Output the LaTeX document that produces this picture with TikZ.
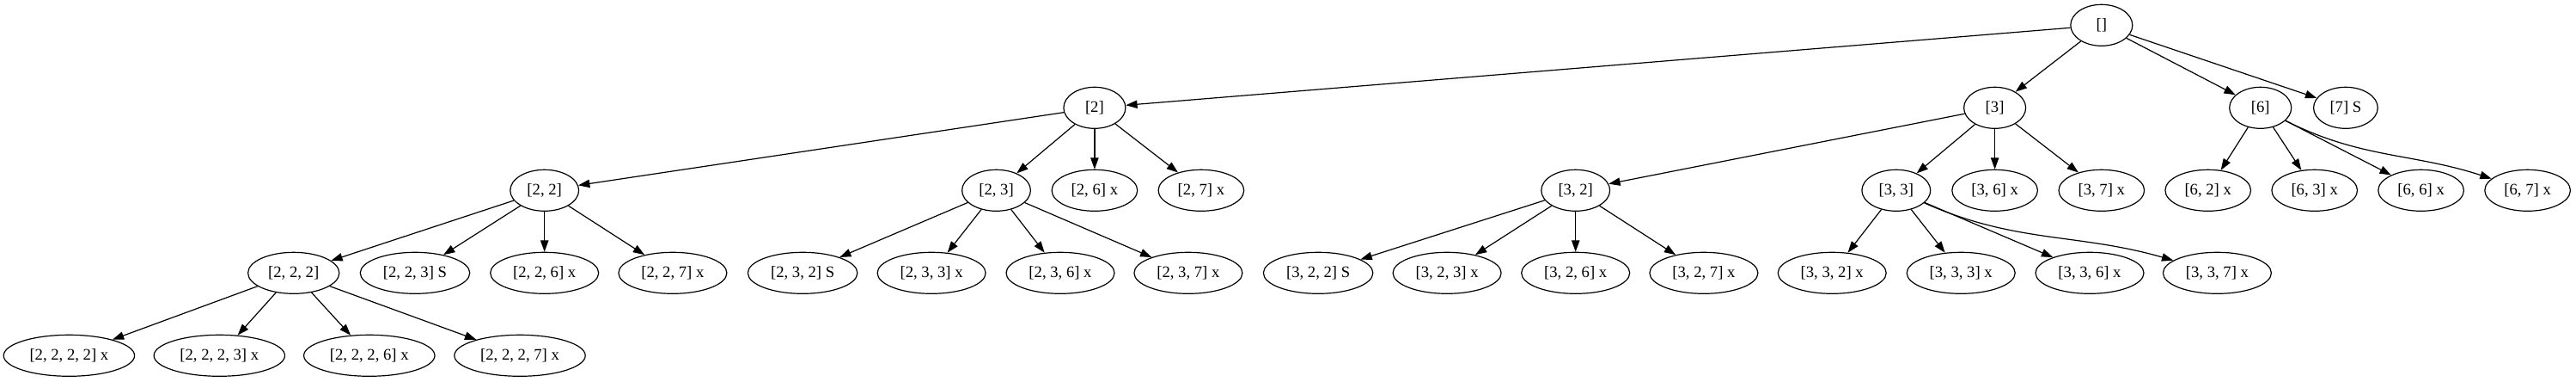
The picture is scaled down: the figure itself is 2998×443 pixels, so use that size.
\documentclass[tikz,border=0pt]{standalone}
\usepackage{fontspec}
\setmainfont{Liberation Serif}
\usetikzlibrary{arrows.meta,shapes.geometric}

\begin{document}
\begin{tikzpicture}[x=0.75pt,y=-0.75pt,
	state/.style={draw,ellipse,line width=0.9pt,inner xsep=6pt,inner ysep=0pt,
		minimum width=54pt,minimum height=36pt,font=\fontsize{14}{16}\selectfont},
	edge/.style={draw,line width=0.9pt,-{Triangle[length=10pt,width=7pt]}}]
	\useasboundingbox (0,0) rectangle (2998,443);

	% rank 0 and 1
	\node[state] (nr) at (2445.8,29.3) {[]};
	\node[state] (n2) at (1273.9,125.3) {[2]};
	\node[state] (n3) at (2321.6,125.3) {[3]};
	\node[state] (n6) at (2630.7,125.3) {[6]};
	\node[state] (n7) at (2729.9,125.3) {[7] S};

	% rank 2
	\node[state] (n22) at (633.7,221.3) {[2, 2]};
	\node[state] (n23) at (1159.5,221.3) {[2, 3]};
	\node[state] (n26) at (1273.9,221.3) {[2, 6] x};
	\node[state] (n27) at (1397.9,221.3) {[2, 7] x};
	\node[state] (n32) at (1833.7,221.3) {[3, 2]};
	\node[state] (n33) at (2206.8,221.3) {[3, 3]};
	\node[state] (n36) at (2321.6,221.3) {[3, 6] x};
	\node[state] (n37) at (2445.8,221.3) {[3, 7] x};
	\node[state] (n62) at (2569.7,221.3) {[6, 2] x};
	\node[state] (n63) at (2693.7,221.3) {[6, 3] x};
	\node[state] (n66) at (2817.6,221.3) {[6, 6] x};
	\node[state] (n67) at (2941.6,221.3) {[6, 7] x};

	% rank 3
	\node[state] (n222) at (341.7,317.3) {[2, 2, 2]};
	\node[state] (n223) at (483,317.3) {[2, 2, 3] S};
	\node[state] (n226) at (633.7,317.3) {[2, 2, 6] x};
	\node[state] (n227) at (782.9,317.3) {[2, 2, 7] x};
	\node[state] (n232) at (934.1,317.3) {[2, 3, 2] S};
	\node[state] (n233) at (1084.1,317.3) {[2, 3, 3] x};
	\node[state] (n236) at (1234,317.3) {[2, 3, 6] x};
	\node[state] (n237) at (1382.9,317.3) {[2, 3, 7] x};
	\node[state] (n322) at (1534.1,317.3) {[3, 2, 2] S};
	\node[state] (n323) at (1684.1,317.3) {[3, 2, 3] x};
	\node[state] (n326) at (1833.7,317.3) {[3, 2, 6] x};
	\node[state] (n327) at (1982.9,317.3) {[3, 2, 7] x};
	\node[state] (n332) at (2132.2,317.3) {[3, 3, 2] x};
	\node[state] (n333) at (2282.2,317.3) {[3, 3, 3] x};
	\node[state] (n336) at (2432,317.3) {[3, 3, 6] x};
	\node[state] (n337) at (2580.4,317.3) {[3, 3, 7] x};

	% rank 4
	\node[state] (n2222) at (80.4,413.3) {[2, 2, 2, 2] x};
	\node[state] (n2223) at (255.3,413.3) {[2, 2, 2, 3] x};
	\node[state] (n2226) at (429.8,413.3) {[2, 2, 2, 6] x};
	\node[state] (n2227) at (605,413.3) {[2, 2, 2, 7] x};

	% edges
	\draw[edge] (nr) -- (n2);
	\draw[edge] (nr) -- (n3);
	\draw[edge] (nr) -- (n6);
	\draw[edge] (nr) -- (n7);
	\draw[edge] (n2) -- (n22);
	\draw[edge] (n2) -- (n23);
	\draw[edge] (n2) -- (n26);
	\draw[edge] (n2) -- (n27);
	\draw[edge] (n3) -- (n32);
	\draw[edge] (n3) -- (n33);
	\draw[edge] (n3) -- (n36);
	\draw[edge] (n3) -- (n37);
	\draw[edge] (n6) -- (n62);
	\draw[edge] (n6) -- (n63);
	\draw[edge] (n6) -- (n66);
	\draw[edge] (n6) to[out=-27,in=162] (n67);
	\draw[edge] (n22) -- (n222);
	\draw[edge] (n22) -- (n223);
	\draw[edge] (n22) -- (n226);
	\draw[edge] (n22) -- (n227);
	\draw[edge] (n23) -- (n232);
	\draw[edge] (n23) -- (n233);
	\draw[edge] (n23) -- (n236);
	\draw[edge] (n23) -- (n237);
	\draw[edge] (n32) -- (n322);
	\draw[edge] (n32) -- (n323);
	\draw[edge] (n32) -- (n326);
	\draw[edge] (n32) -- (n327);
	\draw[edge] (n33) -- (n332);
	\draw[edge] (n33) -- (n333);
	\draw[edge] (n33) -- (n336);
	\draw[edge] (n33) to[out=-24,in=164] (n337);
	\draw[edge] (n222) -- (n2222);
	\draw[edge] (n222) -- (n2223);
	\draw[edge] (n222) -- (n2226);
	\draw[edge] (n222) -- (n2227);
\end{tikzpicture}
\end{document}
